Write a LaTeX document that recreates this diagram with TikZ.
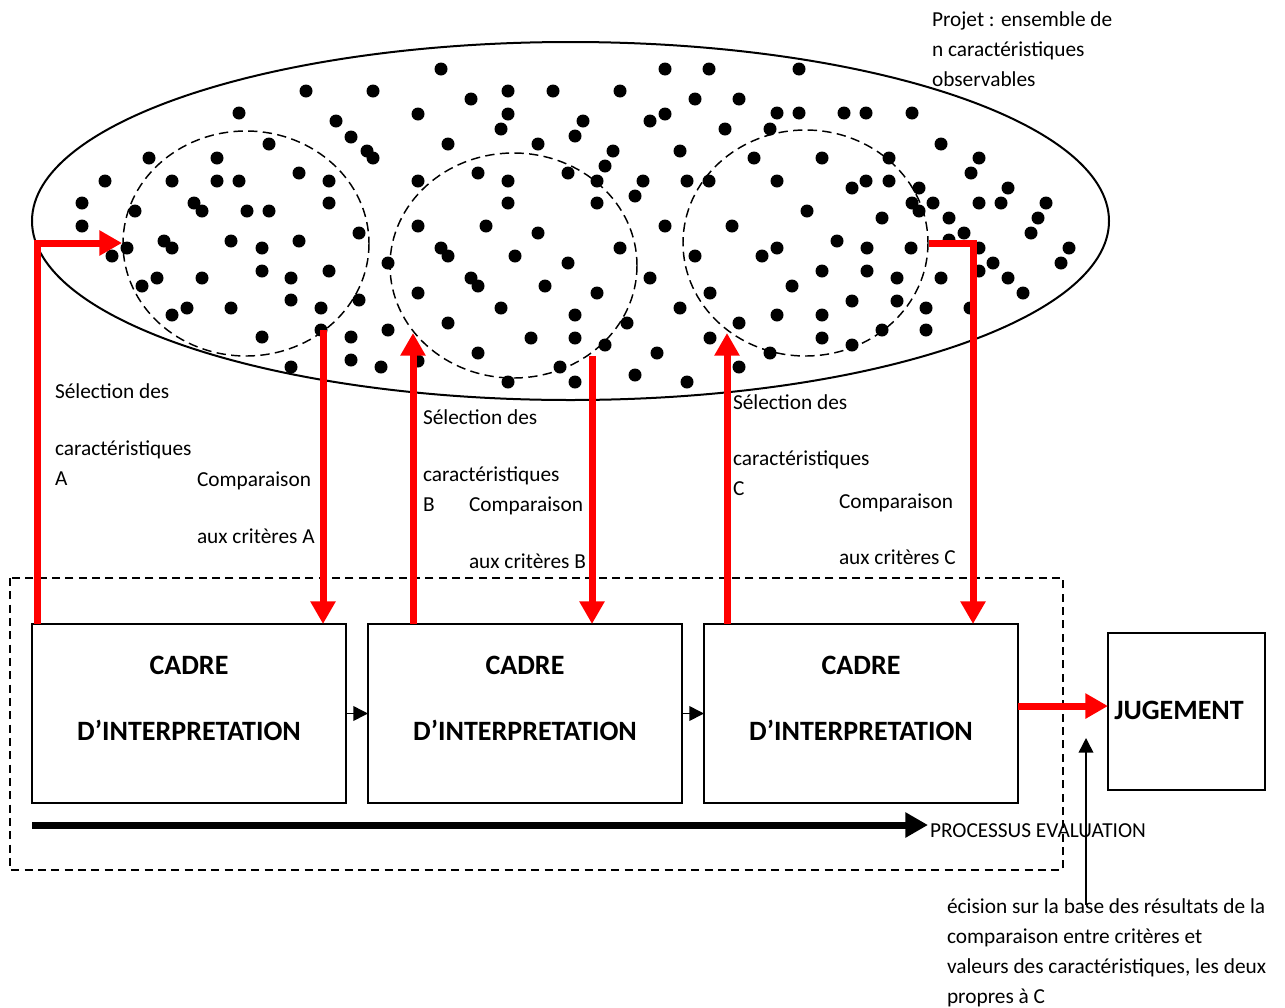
\documentclass[tikz,border=0pt]{standalone}
\usepackage{fontspec}
\setmainfont{Carlito}
\usetikzlibrary{arrows.meta}

\begin{document}
\begin{tikzpicture}[x=0.75pt,y=-0.75pt,
  lbl/.style={anchor=base west,inner sep=0pt,outer sep=0pt,font=\fontsize{16}{19}\selectfont},
  cadre/.style={draw,line width=1.5pt,minimum width=235.5pt,minimum height=134.25pt,inner sep=0pt,outer sep=0pt},
  jugbox/.style={draw,line width=1.5pt,minimum width=117.75pt,minimum height=117.75pt,inner sep=0pt,outer sep=0pt},
  title/.style={font=\fontsize{21}{24}\selectfont\bfseries,inner sep=0pt},
  selarrow/.style={draw=red,line width=5.25pt,-{Triangle[length=17pt,width=18pt]}},
  linkarrow/.style={draw,line width=1.2pt,-{Triangle[length=11pt,width=11pt]}},
  procarrow/.style={draw,line width=5.25pt,-{Triangle[length=17pt,width=18pt]}},
  subset/.style={draw,line width=1.1pt,dash pattern=on 7pt off 4pt},
  frame/.style={draw,line width=1.1pt,dash pattern=on 6pt off 4pt},
  dot/.style={fill=black}
]
\useasboundingbox (0,0) rectangle (1285,1007);

% the project: ellipse of observable characteristics
\draw[line width=1.5pt] (570.5,221) ellipse [x radius=538.5, y radius=179];

% the three selected subsets A, B, C
\draw[subset] (246,243.5) ellipse [x radius=123, y radius=112.5];
\draw[subset] (513.5,265.5) ellipse [x radius=123.5, y radius=112.5];
\draw[subset] (805.5,243) ellipse [x radius=122.5, y radius=113];

% the characteristics
\foreach \px/\py in {
  306/91, 373/91, 239/113, 336/121, 351/137, 367/151, 373/158, 269/144, 149/158, 217/158,
  105/181, 172/181, 217/181, 239/181, 299/173, 329/181, 82/203, 135/211, 194/203, 202/211,
  247/211, 269/211, 329/203,
  441/69, 665/69, 709/69, 471/99, 508/91, 553/91, 620/91, 695/99, 739/99, 418/114, 508/114,
  501/129, 583/121, 575/136, 650/121, 665/114, 725/129, 448/144, 538/144, 613/151, 605/166,
  680/151, 754/158, 418/181, 478/173, 508/181, 568/173, 597/181, 643/181, 635/196, 687/181,
  709/181, 508/203, 597/203,
  799/69, 777/113, 799/113, 844/113, 866/113, 912/113, 770/129, 941/144, 822/158, 889/158,
  979/158, 971/173, 777/181, 852/188, 866/181, 889/181, 919/188, 1008/188, 912/203, 933/203,
  979/203, 1001/203, 1046/203, 807/211, 882/218, 919/211, 949/218, 1038/218,
  82/226, 127/248, 112/256, 164/241, 172/248, 231/241, 262/248, 299/241, 359/233, 388/263,
  142/286, 157/278, 202/278, 262/271, 291/278, 329/271, 172/315, 187/308, 231/308, 291/300,
  321/308, 359/300, 321/330, 262/337, 351/337, 388/330, 291/367, 351/360, 381/367,
  418/226, 486/226, 538/233, 665/226, 732/226, 441/248, 448/256, 515/256, 568/263, 620/248,
  695/256, 650/278, 471/278, 478/286, 545/286, 597/293, 418/293, 710/293, 501/308, 575/315,
  680/308, 627/323, 448/323, 739/323, 531/338, 575/338, 605/345, 710/338, 478/353, 657/353,
  418/361, 560/367, 739/367, 508/382, 575/382, 635/375, 687/382,
  1031/233, 964/233, 949/240, 837/241, 777/248, 762/256, 867/248, 911/248, 979/248, 1069/248,
  993/263, 1061/263, 822/271, 867/271, 792/286, 897/278, 941/278, 979/271, 1008/278, 1023/293,
  852/301, 897/301, 926/308, 970/308, 777/315, 822/315, 822/338, 882/330, 926/330, 852/345,
  770/353}
  \fill[dot] (\px,\py) circle[radius=6.5];

% evaluation frame
\draw[frame] (10,578) rectangle (1063,870);

% interpretation frames and judgement
\node[cadre] (b1) at (189,713.5) {};
\node[cadre] (b2) at (525,713.5) {};
\node[cadre] (b3) at (861,713.5) {};
\node[jugbox] (jug) at (1186.5,711.5) {};

\foreach \b/\cx in {b1/189, b2/525, b3/861} {
  \node[title] (\b-t1) at (\cx,665) {CADRE};
  \node[title] (\b-t2) at (\cx,730) {D’INTERPRETATION};
}
\node[title] (jugt) at (1179,710) {JUGEMENT};

% end points on the subsets
\coordinate (selA) at (37,243);
\coordinate (tipA) at (122,243);
\coordinate (cmpA) at (323,330);
\coordinate (selB) at (413,333);
\coordinate (cmpB) at (592,356);
\coordinate (selC) at (727,333);
\coordinate (cmpC0) at (929,243);
\coordinate (cmpC) at (973,243);
\coordinate (procS) at (32,825);
\coordinate (procE) at (928,825);
\coordinate (decS) at (1086,905);
\coordinate (decE) at (1086,738);

% selection and comparison arrows
\draw[selarrow] (b1.north -| selA) -- (selA) -- (tipA);
\draw[selarrow] (cmpA) -- (cmpA |- b1.north);
\draw[selarrow] (selB |- b2.north) -- (selB);
\draw[selarrow] (cmpB) -- (cmpB |- b2.north);
\draw[selarrow] (selC |- b3.north) -- (selC);
\draw[selarrow] (cmpC0) -- (cmpC) -- (cmpC |- b3.north);
\draw[selarrow] ([yshift=5.6pt]b3.east) -- ([yshift=5.6pt]b3.east -| jug.west);

% links between frames
\draw[linkarrow] (b1.east) -- (b2.west);
\draw[linkarrow] (b2.east) -- (b3.west);

% evaluation process
\draw[procarrow] (procS) -- (procE);
\draw[linkarrow] (decS) -- (decE);

% labels
\node[lbl] (proj1) at (932,26) {Projet : ensemble de};
\node[lbl] (proj2) at (932,56) {n caractéristiques};
\node[lbl] (proj3) at (932,86) {observables};

\node[lbl] (sa1) at (55,398) {Sélection des};
\node[lbl] (sa2) at (55,455) {caractéristiques};
\node[lbl] (sa3) at (55,485) {A};
\node[lbl] (ca1) at (197,486) {Comparaison};
\node[lbl] (ca2) at (197,543) {aux critères A};

\node[lbl] (sb1) at (423,424) {Sélection des};
\node[lbl] (sb2) at (423,481) {caractéristiques};
\node[lbl] (sb3) at (423,511) {B};
\node[lbl] (cb1) at (469,511) {Comparaison};
\node[lbl] (cb2) at (469,568) {aux critères B};

\node[lbl] (sc1) at (733,409) {Sélection des};
\node[lbl] (sc2) at (733,465) {caractéristiques};
\node[lbl] (sc3) at (733,495) {C};
\node[lbl] (cc1) at (839,508) {Comparaison};
\node[lbl] (cc2) at (839,564) {aux critères C};

\node[lbl] (proc) at (930,837) {PROCESSUS EVALUATION};

\node[lbl] (dec1) at (947,913) {écision sur la base des résultats de la};
\node[lbl] (dec2) at (947,943) {comparaison entre critères et};
\node[lbl] (dec3) at (947,973) {valeurs des caractéristiques, les deux};
\node[lbl] (dec4) at (947,1003) {propres à C};
\end{tikzpicture}
\end{document}
